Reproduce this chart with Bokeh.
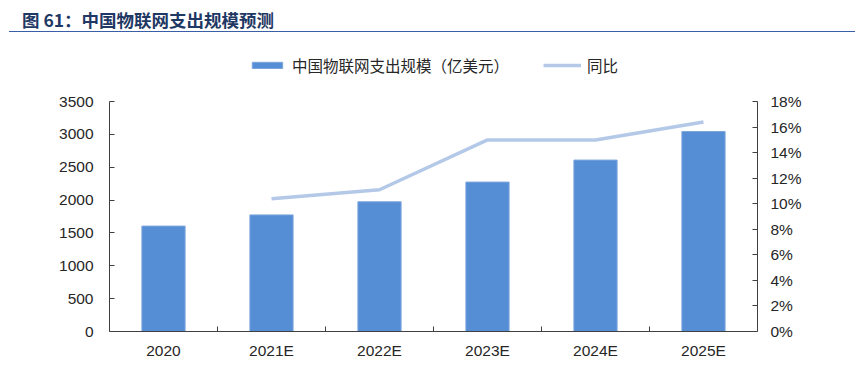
from bokeh.plotting import figure
from bokeh.models import (Range1d, LinearAxis, FixedTicker, NumeralTickFormatter,
                          Legend, LegendItem, ColumnDataSource, Div)
from bokeh.layouts import column
from bokeh.embed import file_html
from bokeh.resources import INLINE

# ---- data ----
categories = ["2020", "2021E", "2022E", "2023E", "2024E", "2025E"]
spending = [1605, 1775, 1975, 2275, 2610, 3045]             # 亿美元
growth = [float("nan"), 0.104, 0.111, 0.150, 0.150, 0.164]  # 同比
left_ticks = [0, 500, 1000, 1500, 2000, 2500, 3000, 3500]
right_ticks = [0, 0.02, 0.04, 0.06, 0.08, 0.10, 0.12, 0.14, 0.16, 0.18]
left_max = 3500
right_max = 0.18
title_text = "图 61：中国物联网支出规模预测"
bar_label = "中国物联网支出规模（亿美元）"
line_label = "同比"

TXT = "#262626"
AX = "#404040"
LAT = "Liberation Sans"
CJK = "Noto Sans CJK SC"

# ---- header (title + underline) ----
PAGE_W = 861
HEAD_H = 34
header_html = (
    '<div style="position:relative;width:861px;height:34px;">'
    '<div style="position:absolute;left:22px;top:9px;line-height:22px;'
    "font-family:'Noto Sans CJK SC';font-weight:bold;font-size:17.5px;"
    'color:#1F3864;white-space:nowrap;">' + title_text + '</div>'
    '<div style="position:absolute;left:9px;top:31.25px;width:846px;height:0;'
    'border-top:1.5px solid #3A5FA8;"></div>'
    '</div>'
)
hdr = Div(text=header_html, width=PAGE_W, height=HEAD_H, margin=0)

# ---- main chart ----
H = 365 - HEAD_H
FRAME_L, FRAME_R = 109, 757
FRAME_B = 330.5           # page y of the x axis
AXIS_TOP = 101            # page y where the value axes end
frame_h = FRAME_B - HEAD_H
axis_h = FRAME_B - AXIS_TOP
y_top = left_max * frame_h / axis_h
r_top = right_max * frame_h / axis_h
n = len(categories)

xs = [i + 0.5 for i in range(n)]
src = ColumnDataSource(dict(x=xs, spend=spending, growth=growth, cat=categories))

p = figure(width=PAGE_W, height=H, output_backend="svg", toolbar_location=None, title=None,
           x_range=Range1d(0, n), y_range=Range1d(0, y_top),
           min_border_left=FRAME_L, min_border_right=PAGE_W - FRAME_R,
           min_border_top=0, min_border_bottom=int(round(HEAD_H + H - FRAME_B)))
p.outline_line_color = None
p.xgrid.visible = False
p.ygrid.visible = False
p.background_fill_color = "white"
p.border_fill_color = "white"
p.extra_y_ranges = {"pct": Range1d(0, r_top)}

bars = p.vbar(x="x", top="spend", width=0.4, source=src,
              fill_color="#558ED5", line_color="#7EA6DC", line_width=1)
line = p.line(x="x", y="growth", source=src, y_range_name="pct",
              line_color="#B3C9E7", line_width=3.5)

# x axis
xa = p.xaxis[0]
xa.ticker = FixedTicker(ticks=xs, minor_ticks=list(range(1, n)))
xa.major_label_overrides = {x: c for x, c in zip(xs, categories)}
xa.major_tick_in = 0
xa.major_tick_out = 0
xa.minor_tick_in = 5
xa.minor_tick_out = 0
xa.minor_tick_line_color = AX
xa.axis_line_color = AX
xa.major_label_text_font = LAT
xa.major_label_text_font_size = "15.5px"
xa.major_label_text_color = TXT
xa.major_label_standoff = 10

# left axis
ya = p.yaxis[0]
ya.ticker = FixedTicker(ticks=left_ticks)
ya.bounds = (0, left_max)
ya.major_tick_in = 5
ya.major_tick_out = 0
ya.minor_tick_in = 0
ya.minor_tick_out = 0
ya.axis_line_color = AX
ya.major_tick_line_color = AX
ya.major_label_text_font = LAT
ya.major_label_text_font_size = "15.5px"
ya.major_label_text_color = TXT
ya.major_label_standoff = 16

# right axis
ra = LinearAxis(y_range_name="pct", ticker=FixedTicker(ticks=right_ticks),
                formatter=NumeralTickFormatter(format="0%"), bounds=(0, right_max))
ra.major_tick_in = 5
ra.major_tick_out = 0
ra.minor_tick_in = 0
ra.minor_tick_out = 0
ra.axis_line_color = AX
ra.major_tick_line_color = AX
ra.major_label_text_font = LAT
ra.major_label_text_font_size = "15.5px"
ra.major_label_text_color = TXT
ra.major_label_standoff = 13
p.add_layout(ra, "right")

legend = Legend(items=[LegendItem(label=bar_label, renderers=[bars]),
                       LegendItem(label=line_label, renderers=[line])],
                orientation="horizontal", location="top_center")
legend.border_line_alpha = 0
legend.background_fill_alpha = 0
legend.label_text_font = CJK
legend.label_text_font_size = "15.5px"
legend.label_text_color = TXT
legend.glyph_width = 38
legend.glyph_height = 8
legend.label_standoff = 6
legend.spacing = 34
legend.padding = 4
legend.margin = 16
p.add_layout(legend, "center")

layout = column(hdr, p, spacing=0)
open("out.html", "w").write(file_html(layout, INLINE))
